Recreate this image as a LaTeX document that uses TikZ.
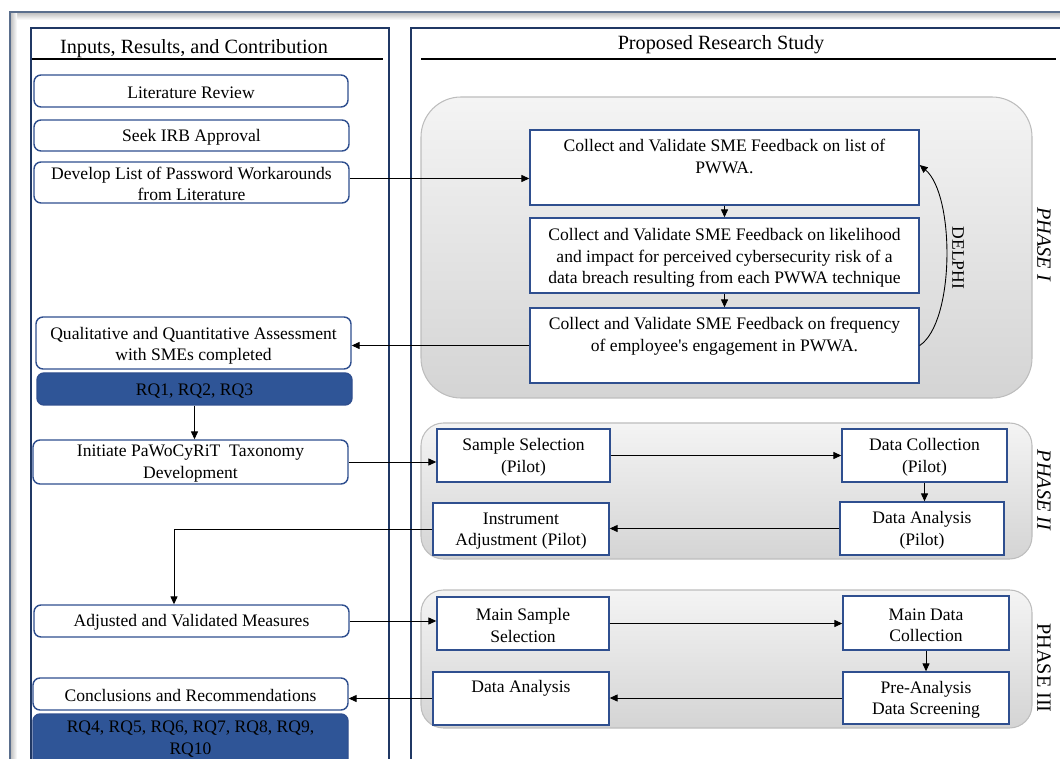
\documentclass[tikz,border=0pt]{standalone}
\usepackage{fontspec}
\setmainfont{Liberation Serif}[Ligatures=TeXOff]
\usetikzlibrary{arrows.meta}
\definecolor{panelnavy}{HTML}{203864}
\definecolor{boxnavy}{HTML}{2F4F8F}
\definecolor{rqblue}{HTML}{2F5597}
\definecolor{phtop}{HTML}{F4F4F4}
\definecolor{phbot}{HTML}{D4D4D4}
\definecolor{phborder}{HTML}{BDBDBD}
\definecolor{frameline}{HTML}{5A6E8C}
\newcommand\up[1]{\rule{0pt}{#1}}
\begin{document}
\begin{tikzpicture}[x=0.02cm,y=-0.02cm,
  font=\fontsize{10}{12.2}\selectfont,
  tip/.style={-{Triangle[length=4.5pt,width=4pt]}},
  conn/.style={tip,line width=0.5pt,black},
  lbox/.style={draw=boxnavy,line width=0.8pt,fill=white,rounded corners=4pt,inner sep=0pt,align=center},
  rqbox/.style={lbox,fill=rqblue},
  rbox/.style={draw=boxnavy,line width=0.8pt,fill=white,inner sep=0pt,align=center},
  phase/.style={draw=phborder,line width=0.6pt,top color=phtop,bottom color=phbot},
  phlabel/.style={rotate=-90,font=\fontsize{11.5}{13}\selectfont},
  panel/.style={draw=panelnavy,line width=1pt},
  hdr/.style={font=\fontsize{11.5}{13}\selectfont}
]
\useasboundingbox (0,0) rectangle (1060,759);
\clip (0,0) rectangle (1060,759);
% window frame shadow
\shade[top color=gray!55,bottom color=white] (10,12) rectangle (1060,20);
\shade[left color=gray!55,right color=white] (10,12) rectangle (17,759);
\draw[frameline,line width=1pt] (1060,12) -- (10,12) -- (10,759);

% panels
\draw[panel] (31,780) -- (31,28) -- (389,28) -- (389,780);
\draw[panel] (411,780) -- (411,28) -- (1075,28);
\node[hdr] (lhdr) at (194,49) {Inputs, Results, and Contribution};
\node[hdr] (rhdr) at (721,45) {Proposed Research Study};
\draw[line width=1.5pt] (32,59) -- (383,59);
\draw[line width=1.5pt] (421,59) -- (1056,59);

% phase backgrounds
\path[phase,rounded corners=0.8cm] (421,97) rectangle (1032,398);
\path[phase,rounded corners=0.45cm] (421,423) rectangle (1032,559);
\path[phase,rounded corners=0.45cm] (421,590) rectangle (1032,728);

\node[phlabel,font=\fontsize{11.5}{13}\itshape] (lab1) at (1044,244) {PHASE I};
\node[phlabel,font=\fontsize{11.5}{13}\itshape] (lab2) at (1044,490) {PHASE II};
\node[phlabel] (lab3) at (1044,668) {PHASE III};

% left column
\node[lbox,minimum width=314*0.02cm,minimum height=32*0.02cm] (lit) at (191,91) {\up{8.5pt}Literature Review};
\node[lbox,minimum width=315*0.02cm,minimum height=31*0.02cm] (irb) at (191.5,135.5) {\up{8.5pt}Seek IRB Approval};
\node[lbox,minimum width=315*0.02cm,minimum height=41*0.02cm] (dev) at (191.5,182.5) {\up{8.5pt}Develop List of Password Workarounds\\from Literature};
\node[lbox,minimum width=315*0.02cm,minimum height=52*0.02cm] (qual) at (193.5,343) {\up{10pt}Qualitative and Quantitative Assessment\\with SMEs completed};
\node[rqbox,minimum width=315*0.02cm,minimum height=32*0.02cm] (rq1) at (194.5,389) {\up{8.5pt}RQ1, RQ2, RQ3};
\node[lbox,minimum width=315*0.02cm,minimum height=44*0.02cm] (init) at (190.5,462) {\up{8.5pt}Initiate PaWoCyRiT\ \ Taxonomy\\Development};
\node[lbox,minimum width=315*0.02cm,minimum height=32*0.02cm] (adj) at (191.5,621) {\up{8.5pt}Adjusted and Validated Measures};
\node[lbox,minimum width=315*0.02cm,minimum height=32*0.02cm] (conc) at (190.5,694) {\up{8.5pt}Conclusions and Recommendations};
\node[rqbox,minimum width=315*0.02cm,minimum height=72*0.02cm] (rq4) at (190.5,750) {\up{8.5pt}RQ4, RQ5, RQ6, RQ7, RQ8, RQ9,\\RQ10\\\strut};

% phase I
\node[rbox,minimum width=389*0.02cm,minimum height=75*0.02cm] (p1a) at (724.5,167.5) {\up{10pt}Collect and Validate SME Feedback on list of\\PWWA.\\\strut};
\node[rbox,minimum width=389*0.02cm,minimum height=75*0.02cm] (p1b) at (724.5,255.5) {\up{10pt}Collect and Validate SME Feedback on likelihood\\and impact for perceived cybersecurity risk of a\\data breach resulting from each PWWA technique};
\node[rbox,minimum width=389*0.02cm,minimum height=75*0.02cm] (p1c) at (724.5,345.5) {\up{10pt}Collect and Validate SME Feedback on frequency\\of employee's engagement in PWWA.\\\strut};
\node[rotate=-90] (delphi) at (958,258) {DELPHI};

% phase II
\node[rbox,minimum width=173*0.02cm,minimum height=53*0.02cm] (ss) at (523.5,455.5) {\up{9pt}Sample Selection\\(Pilot)};
\node[rbox,minimum width=165*0.02cm,minimum height=53*0.02cm] (dc) at (924.5,455.5) {\up{9pt}Data Collection\\(Pilot)};
\node[rbox,minimum width=164*0.02cm,minimum height=53*0.02cm] (da) at (922,528.5) {\up{9pt}Data Analysis\\(Pilot)};
\node[rbox,minimum width=176*0.02cm,minimum height=52*0.02cm] (ia) at (521,529) {\up{9pt}Instrument\\Adjustment (Pilot)};

% phase III
\node[rbox,minimum width=172*0.02cm,minimum height=53*0.02cm] (ms) at (523,623.5) {\up{9pt}Main Sample\\Selection};
\node[rbox,minimum width=166*0.02cm,minimum height=54*0.02cm] (mdc) at (926,623) {\up{9pt}Main Data\\Collection};
\node[rbox,minimum width=166*0.02cm,minimum height=52*0.02cm] (pa) at (926,698) {\up{9pt}Pre-Analysis\\Data Screening};
\node[rbox,minimum width=176*0.02cm,minimum height=53*0.02cm] (dan) at (521,698.5) {\up{9pt}Data Analysis\\\strut};

% connectors
\draw[conn] ([yshift=0.08cm]dev.east) -- ([yshift=0.08cm]dev.east -| p1a.west);
\draw[conn] (p1a.south) -- (p1b.north);
\draw[conn] (p1b.south) -- (p1c.north);
\draw[conn] (p1c.east) .. controls (955,322) and (955,195) .. ([yshift=0.05cm]p1a.east);
\draw[conn] (p1c.west) -- (p1c.west -| qual.east);
\draw[conn] (rq1.south) -- (rq1.south |- init.north);
\draw[conn] (init.east) -- (init.east -| ss.west);
\draw[conn] (ss.east) -- (ss.east -| dc.west);
\draw[conn] (dc.south) -- (dc.south |- da.north);
\draw[conn] (da.west) -- (da.west -| ia.east);
\coordinate (bend) at (174,529);
\draw[conn] (ia.west) -- (bend) -- (bend |- adj.north);
\draw[conn] (adj.east) -- (adj.east -| ms.west);
\draw[conn] (ms.east) -- (ms.east -| mdc.west);
\draw[conn] (mdc.south) -- (mdc.south |- pa.north);
\draw[conn] (pa.west) -- (pa.west -| dan.east);
\draw[conn] (dan.west) -- (dan.west -| conc.east);
\end{tikzpicture}
\end{document}
